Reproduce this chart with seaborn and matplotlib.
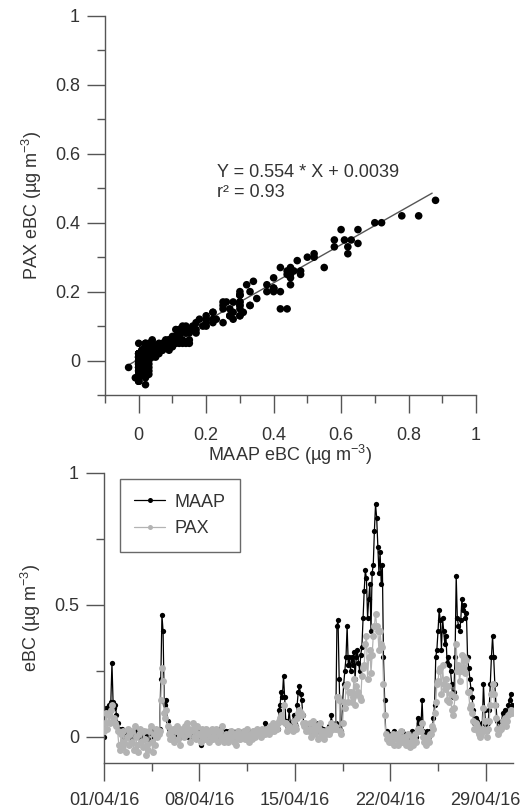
import numpy as np
import pandas as pd
import matplotlib
matplotlib.use("Agg")
import matplotlib.pyplot as plt
import matplotlib.dates as mdates
from matplotlib.lines import Line2D
import seaborn as sns

# ---------------- data (2-hourly) ----------------
start_date = "2016-04-01"
step = "2h"

maap = [
    # one row per day (01/04 ... 30/04), 12 values per day
    0.00, 0.10, 0.11, 0.09, 0.12, 0.11, 0.13, 0.28, 0.13, 0.11, 0.12, 0.08,
    0.05, 0.03, 0.02, 0.01, 0.03, 0.00, 0.02, 0.00, 0.01, 0.02, 0.00, 0.01,
    0.01, 0.02, 0.00, 0.03, 0.01, 0.02, 0.00, 0.01, 0.03, 0.02, 0.00, 0.01,
    0.00, 0.02, 0.01, -0.01, 0.02, 0.03, 0.01, 0.00, 0.02, 0.01, 0.03, 0.02,
    0.02, 0.03, 0.22, 0.46, 0.40, 0.13, 0.12, 0.14, 0.06, 0.03, 0.02, 0.03,
    0.02, 0.01, 0.03, 0.00, 0.02, 0.01, 0.03, 0.02, 0.00, 0.01, 0.02, 0.03,
    0.01, 0.02, 0.00, 0.03, 0.02, 0.01, 0.00, 0.02, 0.03, 0.01, 0.02, 0.00,
    0.01, -0.03, 0.01, 0.02, 0.00, 0.03, 0.02, 0.01, 0.00, 0.02, 0.01, 0.02,
    0.02, 0.01, 0.00, 0.02, 0.01, 0.03, 0.00, 0.01, 0.02, 0.00, 0.01, 0.02,
    0.00, 0.01, 0.02, 0.00, 0.01, 0.02, 0.00, 0.01, 0.00, 0.02, 0.01, 0.00,
    0.01, 0.00, 0.02, 0.01, 0.02, 0.00, 0.01, 0.02, 0.01, 0.00, 0.02, 0.01,
    0.02, 0.01, 0.02, 0.03, 0.01, 0.02, 0.03, 0.02, 0.01, 0.02, 0.05, 0.02,
    0.02, 0.03, 0.02, 0.04, 0.03, 0.02, 0.04, 0.03, 0.05, 0.03, 0.10, 0.12,
    0.17, 0.15, 0.23, 0.15, 0.06, 0.04, 0.05, 0.10, 0.05, 0.04, 0.06, 0.08,
    0.05, 0.04, 0.12, 0.17, 0.19, 0.16, 0.14, 0.08, 0.05, 0.04, 0.03, 0.04,
    0.03, 0.04, 0.02, 0.03, 0.04, 0.02, 0.03, 0.05, 0.02, 0.03, 0.04, 0.02,
    0.02, 0.03, 0.02, 0.01, 0.03, 0.02, 0.04, 0.03, 0.08, 0.05, 0.04, 0.03,
    0.05, 0.42, 0.44, 0.22, 0.03, 0.02, 0.13, 0.20, 0.25, 0.30, 0.42, 0.27,
    0.30, 0.25, 0.30, 0.27, 0.32, 0.22, 0.30, 0.33, 0.28, 0.25, 0.31, 0.34,
    0.45, 0.55, 0.63, 0.60, 0.45, 0.52, 0.58, 0.40, 0.62, 0.65, 0.78, 0.88,
    0.83, 0.72, 0.62, 0.70, 0.58, 0.65, 0.30, 0.14, 0.01, 0.02, 0.00, 0.01,
    0.00, 0.01, 0.00, 0.02, 0.01, 0.00, 0.01, 0.00, 0.01, 0.00, 0.02, 0.01,
    0.00, 0.01, 0.00, 0.01, 0.00, 0.01, 0.00, 0.02, 0.01, 0.00, 0.01, 0.00,
    0.07, 0.05, 0.06, 0.04, 0.14, 0.02, 0.00, 0.01, 0.02, 0.01, 0.00, 0.02,
    0.02, 0.03, 0.07, 0.12, 0.30, 0.33, 0.40, 0.48, 0.44, 0.33, 0.45, 0.40,
    0.35, 0.38, 0.28, 0.30, 0.27, 0.25, 0.20, 0.15, 0.17, 0.30, 0.61, 0.45,
    0.42, 0.40, 0.44, 0.52, 0.48, 0.50, 0.45, 0.47, 0.30, 0.26, 0.22, 0.18,
    0.15, 0.10, 0.05, 0.07, 0.06, 0.04, 0.03, 0.02, 0.03, 0.05, 0.20, 0.10,
    0.04, 0.02, 0.05, 0.10, 0.20, 0.30, 0.38, 0.30, 0.20, 0.12, 0.06, 0.03,
    0.03, 0.05, 0.06, 0.09, 0.08, 0.10, 0.07, 0.09, 0.12, 0.14, 0.16, 0.12,
]

pax = [
    0.02, 0.05, 0.09, 0.03, 0.08, 0.05, 0.10, 0.12, 0.06, 0.07, 0.05, 0.04,
    0.02, -0.03, -0.05, 0.01, -0.04, 0.02, -0.02, -0.06, 0.00, 0.03, -0.03, 0.01,
    0.02, -0.02, -0.05, 0.04, 0.00, -0.03, -0.06, 0.01, 0.03, -0.02, -0.04, 0.02,
    -0.01, -0.07, -0.03, -0.05, 0.02, 0.04, -0.02, -0.06, 0.01, -0.03, 0.03, 0.00,
    0.01, 0.02, 0.14, 0.26, 0.21, 0.09, 0.07, 0.10, 0.04, 0.01, -0.01, 0.02,
    0.00, 0.03, -0.02, 0.02, 0.04, -0.01, 0.02, -0.03, 0.01, 0.03, 0.00, 0.04,
    0.02, 0.05, 0.01, 0.03, -0.02, 0.02, 0.05, 0.00, 0.03, -0.01, 0.04, 0.01,
    0.01, -0.02, 0.03, 0.00, 0.02, -0.01, 0.03, 0.01, -0.02, 0.02, 0.00, 0.03,
    -0.01, 0.02, 0.00, 0.03, -0.02, 0.01, 0.02, -0.01, 0.04, 0.00, -0.02, 0.01,
    0.00, -0.02, 0.01, -0.01, 0.02, 0.00, -0.02, 0.01, -0.03, 0.00, 0.02, -0.01,
    -0.01, 0.01, 0.00, 0.02, -0.01, 0.01, 0.03, 0.00, -0.02, 0.01, -0.01, 0.02,
    0.01, 0.00, 0.02, 0.03, 0.01, 0.02, 0.00, 0.03, 0.01, 0.02, 0.01, 0.03,
    0.03, 0.01, 0.04, 0.02, 0.03, 0.05, 0.02, 0.04, 0.03, 0.05, 0.06, 0.07,
    0.08, 0.06, 0.12, 0.05, 0.05, 0.02, 0.04, 0.04, 0.03, 0.03, 0.02, 0.06,
    0.04, 0.03, 0.07, 0.09, 0.10, 0.09, 0.08, 0.05, 0.04, 0.05, 0.02, 0.03,
    0.02, 0.05, 0.00, 0.03, 0.06, 0.01, 0.02, 0.04, -0.01, 0.03, 0.05, 0.01,
    0.00, 0.02, -0.01, 0.01, 0.02, 0.03, 0.01, 0.02, 0.05, 0.04, 0.03, 0.04,
    0.03, 0.15, 0.15, 0.14, 0.02, 0.01, 0.05, 0.13, 0.11, 0.19, 0.20, 0.13,
    0.17, 0.17, 0.13, 0.15, 0.22, 0.12, 0.19, 0.16, 0.17, 0.15, 0.14, 0.23,
    0.26, 0.27, 0.35, 0.38, 0.22, 0.30, 0.33, 0.24, 0.31, 0.38, 0.42, 0.465,
    0.42, 0.40, 0.33, 0.40, 0.35, 0.34, 0.20, 0.08, 0.01, -0.01, 0.00, -0.02,
    0.00, -0.02, 0.01, -0.03, 0.00, -0.01, 0.01, -0.03, -0.01, 0.02, -0.02, 0.00,
    -0.01, 0.00, -0.03, -0.02, 0.01, -0.04, -0.02, 0.00, -0.03, -0.01, 0.01, -0.02,
    0.03, 0.02, 0.03, 0.02, 0.05, 0.00, -0.02, -0.03, -0.01, 0.00, -0.02, 0.01,
    0.01, 0.04, 0.03, 0.09, 0.13, 0.20, 0.21, 0.25, 0.26, 0.16, 0.27, 0.20,
    0.18, 0.22, 0.14, 0.19, 0.13, 0.16, 0.10, 0.08, 0.11, 0.15, 0.35, 0.25,
    0.27, 0.21, 0.25, 0.31, 0.26, 0.30, 0.24, 0.29, 0.17, 0.17, 0.11, 0.12,
    0.09, 0.06, 0.03, 0.05, 0.04, 0.02, 0.01, 0.00, 0.01, 0.03, 0.11, 0.06,
    0.02, 0.00, 0.03, 0.06, 0.12, 0.16, 0.20, 0.16, 0.12, 0.07, 0.03, 0.01,
    0.02, 0.03, 0.04, 0.06, 0.05, 0.07, 0.04, 0.06, 0.08, 0.09, 0.10, 0.09,
]

fit_slope = 0.554
fit_intercept = 0.0039
fit_r2 = 0.93

scatter_xticks = [0, 0.2, 0.4, 0.6, 0.8, 1]
scatter_xticklabels = ["0", "0.2", "0.4", "0.6", "0.8", "1"]
scatter_yticks = [0, 0.2, 0.4, 0.6, 0.8, 1]
scatter_yticklabels = ["0", "0.2", "0.4", "0.6", "0.8", "1"]
ts_yticks = [0, 0.5, 1]
ts_yticklabels = ["0", "0.5", "1"]
ts_date_ticks = ["2016-04-01", "2016-04-08", "2016-04-15", "2016-04-22", "2016-04-29"]
ts_minor_ticks = ["2016-04-04 12:00", "2016-04-11 12:00", "2016-04-18 12:00", "2016-04-25 12:00"]

# ---------------- style ----------------
sns.set_theme(style="ticks")
plt.rcParams["font.family"] = ["Liberation Sans", "DejaVu Sans"]
plt.rcParams["mathtext.fontset"] = "custom"
plt.rcParams["mathtext.rm"] = "Liberation Sans"
plt.rcParams["mathtext.default"] = "regular"

TXT = "#333333"
AX = "#555555"
FS = 13

times = pd.date_range(start_date, periods=len(maap), freq=step)
df = pd.DataFrame({"time": times, "MAAP": maap, "PAX": pax})

fig = plt.figure(figsize=(5.26, 8.10), dpi=100)
W, H = 526.0, 810.0

def style_axes(ax):
    for s in ["top", "right"]:
        ax.spines[s].set_visible(False)
    for s in ["left", "bottom"]:
        ax.spines[s].set_color(AX)
        ax.spines[s].set_linewidth(1.0)
    ax.tick_params(which="major", direction="out", length=13, width=1.0,
                   color=AX, labelcolor=TXT, labelsize=FS)
    ax.tick_params(which="minor", direction="out", length=6, width=1.0, color=AX)
    ax.tick_params(axis="y", which="major", pad=5)
    ax.set_facecolor("white")

# ---------------- top: scatter ----------------
ax1 = fig.add_axes([105 / W, 1 - 395 / H, 371 / W, 379 / H])
sns.scatterplot(data=df, x="MAAP", y="PAX", ax=ax1, color="black",
                s=30, linewidth=0, edgecolor="none", zorder=3, legend=False)
xfit = np.array([min(maap), 0.87])
ax1.plot(xfit, fit_slope * xfit + fit_intercept, color="#555555", lw=1.0, zorder=2)
ax1.text(0.233, 0.545, "Y = %.3f * X + %.4f" % (fit_slope, fit_intercept),
         fontsize=FS, color=TXT, va="center", ha="left")
ax1.text(0.233, 0.487, "r² = %.2f" % fit_r2, fontsize=FS, color=TXT, va="center", ha="left")
ax1.set_xlim(-0.1, 1.0)
ax1.set_ylim(-0.1, 1.0)
ax1.set_xticks(scatter_xticks)
ax1.set_xticklabels(scatter_xticklabels)
ax1.set_yticks(scatter_yticks)
ax1.set_yticklabels(scatter_yticklabels)
ax1.set_xticks(np.arange(-0.1, 1.0, 0.2), minor=True)
ax1.set_yticks(np.arange(-0.1, 1.0, 0.2), minor=True)
style_axes(ax1)
ax1.tick_params(axis="x", which="major", pad=10)
ax1.set_xlabel("MAAP eBC (µg m$^{-3}$)", fontsize=FS, color=TXT)
ax1.set_ylabel("PAX eBC (µg m$^{-3}$)", fontsize=FS, color=TXT)
ax1.xaxis.set_label_coords(0.5, -0.126)
ax1.yaxis.set_label_coords(-0.165, 0.5)

# ---------------- bottom: time series ----------------
ax2 = fig.add_axes([104 / W, 1 - 763 / H, 409 / W, 290.3 / H])
sns.lineplot(data=df, x="time", y="MAAP", ax=ax2, color="black", lw=0.9,
             marker="o", markersize=3.8, markeredgewidth=0, zorder=2)
sns.lineplot(data=df, x="time", y="PAX", ax=ax2, color="#b3b3b3", lw=0.9,
             marker="o", markersize=5.0, markeredgewidth=0, zorder=3)
ax2.set_xlim(pd.Timestamp("2016-04-01"), pd.Timestamp("2016-05-01"))
ax2.set_ylim(-0.1, 1.0)
ax2.set_xticks(pd.to_datetime(ts_date_ticks))
ax2.set_xticks(pd.to_datetime(ts_minor_ticks), minor=True)
ax2.xaxis.set_major_formatter(mdates.DateFormatter("%d/%m/%y"))
ax2.set_yticks(ts_yticks)
ax2.set_yticklabels(ts_yticklabels)
ax2.set_yticks([0.25, 0.75], minor=True)
style_axes(ax2)
ax2.tick_params(axis="x", which="major", pad=8)
ax2.set_xlabel("")
ax2.set_ylabel("eBC (µg m$^{-3}$)", fontsize=FS, color=TXT)
ax2.yaxis.set_label_coords(-0.148, 0.5)

handles = [
    Line2D([], [], color="black", lw=0.9, marker="o", markersize=3.6, markeredgewidth=0),
    Line2D([], [], color="#b3b3b3", lw=0.9, marker="o", markersize=3.6, markeredgewidth=0),
]
leg = ax2.legend(handles, ["MAAP", "PAX"], loc="upper left",
                 bbox_to_anchor=(0.039, 0.978), borderaxespad=0,
                 frameon=True, fancybox=False, fontsize=FS, handlelength=1.7,
                 handletextpad=0.5, labelspacing=0.55, borderpad=0.8)
leg.get_frame().set_edgecolor("#444444")
leg.get_frame().set_linewidth(1.0)
for t in leg.get_texts():
    t.set_color(TXT)

fig.savefig("out.png", dpi=100, facecolor="white")
